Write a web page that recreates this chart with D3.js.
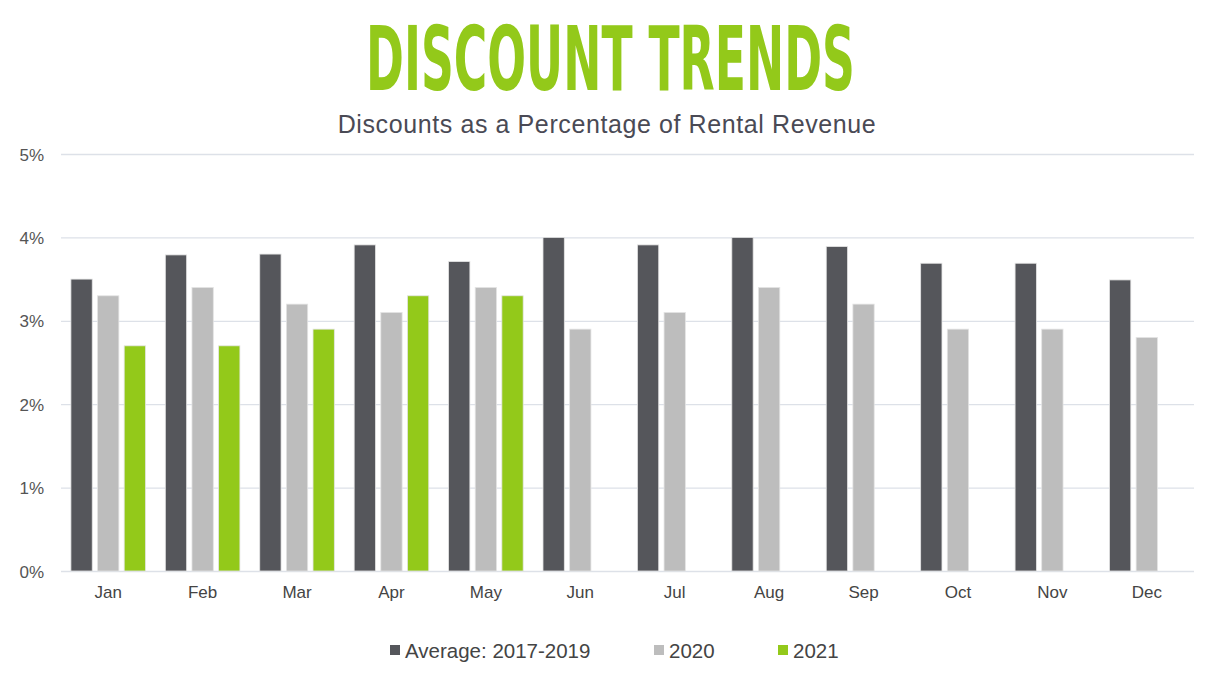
<!DOCTYPE html>
<html><head><meta charset="utf-8">
<script src="https://cdn.jsdelivr.net/npm/d3@7"></script>
<style>body{margin:0;background:#fff;} svg{display:block;}</style>
</head><body>
<svg id="c" width="1212" height="680"></svg>
<script>
const months = ["Jan","Feb","Mar","Apr","May","Jun","Jul","Aug","Sep","Oct","Nov","Dec"];
const seriesNames = ["Average: 2017-2019","2020","2021"];
const avg2017_2019 = [3.5,3.79,3.8,3.91,3.71,4.0,3.91,4.0,3.89,3.69,3.69,3.49];
const y2020 = [3.3,3.4,3.2,3.1,3.4,2.9,3.1,3.4,3.2,2.9,2.9,2.8];
const y2021 = [2.7,2.7,2.9,3.3,3.3];
const yTicks = [0,1,2,3,4,5];
const colors = ["#55565b","#bdbdbd","#93c91a"];

(function(){
const svg = d3.select("#c");
const pLeft = 61, pRight = 1194, pTop = 154, pBottom = 571;
const x0 = d3.scaleBand().domain(months).range([pLeft,pRight]).paddingInner(0.21).paddingOuter(0.105);
const x1 = d3.scaleBand().domain(seriesNames).range([0,x0.bandwidth()]).paddingInner(0.2).paddingOuter(0);
const y = d3.scaleLinear().domain([0,5]).range([pBottom,pTop]);

// title (condensed by horizontal scaling)
const tg = svg.append("g");
const title = tg.append("text").attr("x",0).attr("y",0).attr("text-anchor","middle")
  .attr("font-family","'DejaVu Sans Condensed','DejaVu Sans',sans-serif").attr("font-weight","bold")
  .attr("font-size",89).attr("fill","#93c91a")
  .text("DISCOUNT TRENDS");
const natW = title.node().getComputedTextLength() || 489;
tg.attr("transform",`translate(610.5,90) scale(${489/natW},1)`);

svg.append("text").attr("x",607).attr("y",133).attr("text-anchor","middle")
  .attr("font-family","'Liberation Sans',Arial,sans-serif").attr("font-size",25).attr("letter-spacing",0.6)
  .attr("fill","#4a4a55")
  .text("Discounts as a Percentage of Rental Revenue");

// grid
const yAxis = d3.axisLeft(y).tickValues(yTicks).tickFormat(d=>d+"%").tickSize(-(pRight-pLeft)).tickPadding(16);
const gy = svg.append("g").attr("transform",`translate(${pLeft},0)`).call(yAxis);
gy.select(".domain").remove();
gy.selectAll(".tick line").attr("stroke","#dde1e8").attr("stroke-width",1.3);
gy.selectAll(".tick text").attr("font-family","'Liberation Sans',Arial,sans-serif").attr("font-size",17).attr("fill","#555")
  .attr("x",-17).attr("dy","0.36em");

// bars
const data = months.map((m,i)=>({m, vals:[avg2017_2019[i], y2020[i], y2021[i]]}));
const g = svg.append("g");
data.forEach(d=>{
  d.vals.forEach((v,j)=>{
    if(v==null) return;
    g.append("rect")
      .attr("x",x0(d.m)+x1(seriesNames[j]))
      .attr("y",y(v))
      .attr("width",x1.bandwidth())
      .attr("height",y(0)-y(v))
      .attr("fill",colors[j])
      .attr("stroke","#e4e4e4").attr("stroke-width",0.8);
  });
});

// x axis
const xAxis = d3.axisBottom(x0).tickSize(0).tickPadding(15);
const gx = svg.append("g").attr("transform",`translate(0,${pBottom})`).call(xAxis);
gx.select(".domain").remove();
gx.selectAll(".tick text").attr("font-family","'Liberation Sans',Arial,sans-serif").attr("font-size",17).attr("fill","#444");

// legend
const legendX = [390,654,778];
const lg = svg.append("g");
seriesNames.forEach((s,i)=>{
  lg.append("rect").attr("x",legendX[i]).attr("y",645).attr("width",10).attr("height",10).attr("fill",colors[i]);
  lg.append("text").attr("x",legendX[i]+15).attr("y",658).attr("font-family","'Liberation Sans',Arial,sans-serif")
    .attr("font-size",20.5).attr("fill","#444").text(s);
});
})();
</script>
</body></html>
